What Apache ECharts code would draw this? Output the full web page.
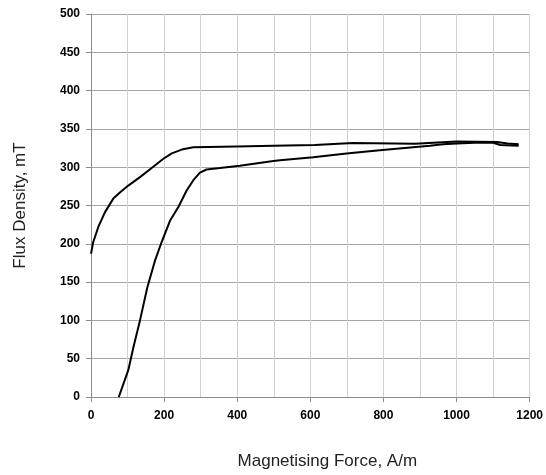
<!DOCTYPE html>
<html>
<head>
<meta charset="utf-8">
<script src="https://cdn.jsdelivr.net/npm/echarts@6/dist/echarts.min.js"></script>
<style>
html,body{margin:0;padding:0;background:#fff;}
#c{width:546px;height:475px;}
</style>
</head>
<body>
<div id="c"></div>
<script>
// Upper (return) curve: magnetising force (A/m) and flux density (mT)
var upperH = [0, 6, 20, 38, 61, 79, 102, 134, 166, 198, 221, 248, 280, 398, 500, 612, 616, 716, 720, 886, 890, 1000, 1110, 1140, 1170];
var upperB = [187, 202, 222, 241, 259, 267, 276, 287, 299, 311, 318, 323, 326, 327, 328, 329, 331, 331.5, 330.5, 330.5, 333, 333.5, 333, 331, 330];
// Lower (initial magnetisation) curve
var lowerH = [76, 102, 116, 134, 154, 175, 193, 216, 239, 262, 280, 298, 316, 353, 407, 499, 517, 608, 699, 790, 881, 927, 963, 1000, 1050, 1100, 1120, 1170];
var lowerB = [0, 35, 65, 100, 143, 178, 202, 230, 248, 270, 283, 293, 297, 299, 302, 308, 309, 313, 318, 322, 326, 328, 330, 331, 332, 332, 329, 328];
// Axis ticks
var xTicks = {min: 0, max: 1200, interval: 200};
var yTicks = {min: 0, max: 500, interval: 50};
var xTitle = 'Magnetising Force, A/m';
var yTitle = 'Flux Density, mT';

function pairs(xs, ys) { return xs.map(function (x, i) { return [x, ys[i]]; }); }

var chart = echarts.init(document.getElementById('c'), null, {renderer: 'canvas'});
var labelFont = {fontFamily: '"Liberation Sans", Arial, sans-serif', fontWeight: 'bold', fontSize: 12, color: '#000'};
chart.setOption({
  animation: false,
  backgroundColor: '#fff',
  grid: {left: 91, right: 16, top: 14, bottom: 78, containLabel: false},
  xAxis: {
    type: 'value', min: xTicks.min, max: xTicks.max, interval: xTicks.interval,
    axisLine: {show: true, onZero: false, lineStyle: {color: '#8c8c8c', width: 1}},
    axisTick: {show: true, inside: false, length: 5, lineStyle: {color: '#8c8c8c'}},
    axisLabel: Object.assign({margin: 13, formatter: function (v) { return String(v); }}, labelFont),
    splitLine: {show: true, lineStyle: {color: '#d0d0d0', width: 1}},
    minorTick: {show: false, splitNumber: 2},
    minorSplitLine: {show: true, lineStyle: {color: '#d0d0d0', width: 1}},
    name: xTitle, nameLocation: 'middle', nameGap: 56,
    nameTextStyle: {fontFamily: '"Liberation Sans", Arial, sans-serif', fontSize: 17, color: '#222', padding: [0, 0, 0, 34]}
  },
  yAxis: {
    type: 'value', min: yTicks.min, max: yTicks.max, interval: yTicks.interval,
    axisLine: {show: true, onZero: false, lineStyle: {color: '#8c8c8c', width: 1}},
    axisTick: {show: true, inside: false, length: 5, lineStyle: {color: '#8c8c8c'}},
    axisLabel: Object.assign({margin: 11, formatter: function (v) { return String(v); }}, labelFont),
    splitLine: {show: true, lineStyle: {color: '#a6a6a6', width: 1}},
    name: yTitle, nameLocation: 'middle', nameGap: 62, nameRotate: 90,
    nameTextStyle: {fontFamily: '"Liberation Sans", Arial, sans-serif', fontSize: 17, color: '#222'}
  },
  series: [
    {type: 'line', data: pairs(upperH, upperB), showSymbol: false, symbol: 'none',
     lineStyle: {color: '#000', width: 2}, z: 3},
    {type: 'line', data: pairs(lowerH, lowerB), showSymbol: false, symbol: 'none',
     lineStyle: {color: '#000', width: 2}, z: 3}
  ]
});
</script>
</body>
</html>
